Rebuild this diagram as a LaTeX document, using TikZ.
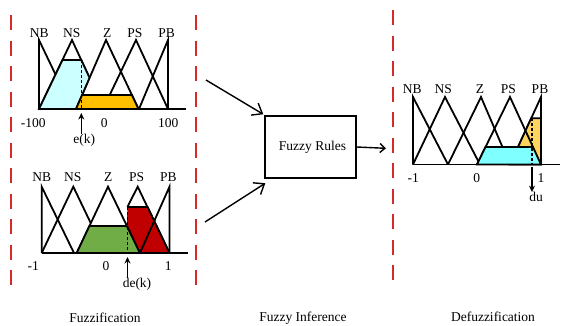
\documentclass[tikz,border=0pt]{standalone}
\usepackage{fontspec}
\setmainfont{Liberation Serif}
\usetikzlibrary{arrows.meta}
\definecolor{topcyan}{HTML}{CCFFFF}
\definecolor{toporange}{HTML}{FFC000}
\definecolor{fgreen}{HTML}{70AD47}
\definecolor{fred}{HTML}{C00000}
\definecolor{rcyan}{HTML}{7FFFFF}
\definecolor{rorange}{HTML}{FFD45E}
\definecolor{sepred}{HTML}{D42A2A}
\begin{document}
\begin{tikzpicture}[x=1pt,y=-1pt,
  mf/.style={line width=1.8pt, line join=miter},
  fillshape/.style={draw=black, line width=1.8pt, line join=miter},
  guide/.style={line width=1.3pt, dash pattern=on 3pt off 2pt},
  sep/.style={draw=sepred, line width=2pt, dash pattern=on 15pt off 10.5pt},
  lbl/.style={font=\fontsize{13.5}{16}\selectfont, inner sep=0pt},
  pointer/.style={line width=1.3pt, -{Stealth[length=6.5pt,width=6pt]}},
  flow/.style={line width=1.4pt, -{Straight Barb[length=9pt,width=14pt,line width=1.4pt]}},
  flowsmall/.style={line width=1.4pt, -{Straight Barb[length=5pt,width=9pt,line width=1.4pt]}},
  rulebox/.style={draw, line width=1.4pt, minimum width=91pt, minimum height=62pt, inner sep=0pt, font=\fontsize{13.5}{16}\selectfont}
]
\fill[white] (0,0) rectangle (574,325);
\useasboundingbox (0,0) rectangle (574,325);

% separators
\draw[sep] (11,15) -- (11,291);
\draw[sep] (196,15) -- (196,289);
\draw[sep] (393,10) -- (393,285);

% ===== top chart (e) =====
\draw[mf] (39,109)--(39,40)--(72,109);
\draw[mf] (39,109)--(72,40)--(89.5,77.8);
\draw[mf] (76,109)--(106,40)--(138.5,109);
\draw[mf] (103,109)--(136,40)--(168,109);
\draw[mf] (139,109)--(168,40)--(168,109);
\filldraw[fillshape, fill=topcyan] (39,109)--(62.5,60)--(81.3,60)--(89.5,77.8)--(82.1,95)--(76,109)--cycle;
\filldraw[fillshape, fill=toporange] (76,109)--(82.1,95)--(131.9,95)--(138.5,109)--cycle;
\draw[mf] (39,109)--(186,109);
\draw[guide] (81.3,60)--(81.3,109);
\node[lbl] (t1) at (39.3,33.3) {NB};
\node[lbl] (t2) at (71.7,33.3) {NS};
\node[lbl] (t3) at (107.3,33.3) {Z};
\node[lbl] (t4) at (135,33.3) {PS};
\node[lbl] (t5) at (166.7,33.3) {PB};
\node[lbl] (ta) at (33.3,122.7) {-100};
\node[lbl] (tb) at (104.3,122.7) {0};
\node[lbl] (tc) at (168.3,122.7) {100};
\node[lbl] (ek) at (84.3,140) {e(k)};
\coordinate (ekTip) at (81.3,113);
\draw[pointer] (ek.north -| ekTip) -- (ekTip);

% ===== bottom chart (de) =====
\draw[mf] (41.7,253)--(41.7,186.7)--(74,253);
\draw[mf] (41.7,253)--(73.3,186.7)--(90.8,223.2);
\draw[mf] (76.7,253)--(108,186.7)--(140,253);
\draw[mf] (127.4,207)--(137.7,186.7)--(169.5,253);
\draw[mf] (140,253)--(169.5,186.7)--(169.5,253);
\filldraw[fillshape, fill=fgreen] (76.7,253)--(89.4,226)--(127,226)--(140,253)--cycle;
\fill[fred] (127.4,207)--(147.6,207)--(169.5,253)--(140,253)--(127,226)--cycle;
\draw[mf] (127.4,207)--(147.6,207)--(169.5,253);
\draw[mf] (127,226)--(140,253);
\draw[mf] (140,253)--(155.2,218.8);
\draw[mf] (41.7,253)--(188,253);
\draw[guide] (127.5,207)--(127.5,253);
\node[lbl] (b1) at (41.7,176.7) {NB};
\node[lbl] (b2) at (72.7,176.7) {NS};
\node[lbl] (b3) at (108.3,176.7) {Z};
\node[lbl] (b4) at (136.7,176.7) {PS};
\node[lbl] (b5) at (168.3,176.7) {PB};
\node[lbl] (ba) at (33.3,266) {-1};
\node[lbl] (bb) at (106,266) {0};
\node[lbl] (bc) at (168.3,266) {1};
\node[lbl] (dek) at (137,284) {de(k)};
\coordinate (dekTip) at (127.5,257);
\draw[pointer] (dek.north -| dekTip) -- (dekTip);

% ===== right chart (du) =====
\draw[mf] (413,164.5)--(413,97)--(448,164.5);
\draw[mf] (413,164.5)--(445,97)--(480,164.5);
\draw[mf] (448,164.5)--(481,97)--(510,164.5);
\draw[mf] (477,164.5)--(510,97)--(541,164.5);
\draw[mf] (510,164.5)--(541,97)--(541,164.5);
\filldraw[fillshape, fill=rorange] (510,164.5)--(531.2,118.3)--(541,118.3)--(541,164.5)--cycle;
\draw[mf] (525.5,130.75)--(533,147);
\filldraw[fillshape, fill=rcyan] (477,164.5)--(485.5,147)--(533,147)--(541,164.5)--cycle;
\draw[mf] (413,164.5)--(560,164.5);
\draw[guide] (532,118.3)--(532,164.5);
\node[lbl] (r1) at (412.3,89.3) {NB};
\node[lbl] (r2) at (443.3,89.3) {NS};
\node[lbl] (r3) at (480,89.3) {Z};
\node[lbl] (r4) at (508.3,89.3) {PS};
\node[lbl] (r5) at (540,89.3) {PB};
\node[lbl] (ra) at (413.3,178.3) {-1};
\node[lbl] (rb) at (476.7,178.3) {0};
\node[lbl] (rc) at (541,178.3) {1};
\node[lbl] (du) at (536,197) {du};
\coordinate (duTail) at (532,167);
\draw[pointer] (duTail) -- (du.north -| duTail);

% ===== middle =====
\node[rulebox] (rules) at (310.5,147) {\hspace*{4pt}Fuzzy Rules};
\coordinate (in1) at (206,80);
\coordinate (in2) at (205,222);
\coordinate (out) at (386,148.3);
\draw[flow] (in1) -- ([xshift=-1pt,yshift=1pt]rules.north west);
\draw[flow] (in2) -- ([xshift=1pt,yshift=-4.5pt]rules.south west);
\draw[flowsmall] (rules.east) -- (out);

% captions
\node[lbl] (c1) at (105,318) {Fuzzification};
\node[lbl] (c2) at (303,318) {Fuzzy Inference};
\node[lbl] (c3) at (493,317) {Defuzzification};
\end{tikzpicture}
\end{document}
